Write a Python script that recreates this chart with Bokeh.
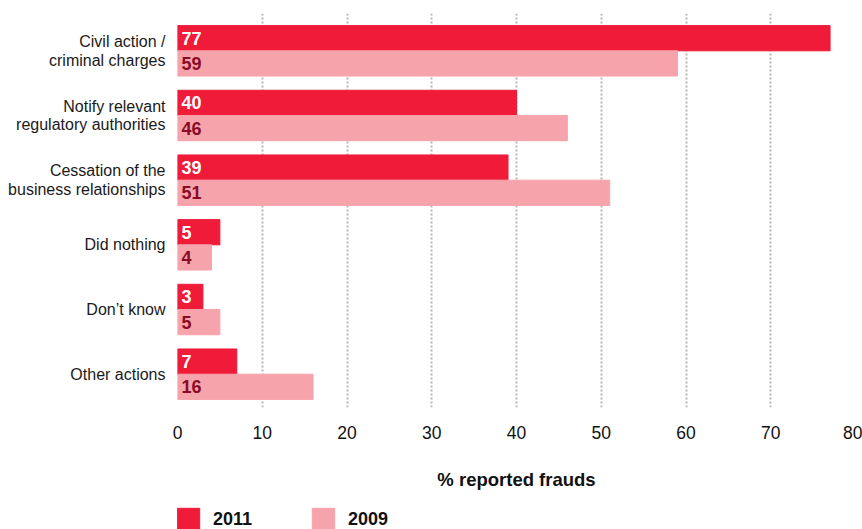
from bokeh.plotting import figure
from bokeh.layouts import column
from bokeh.models import Range1d, FixedTicker, Legend, LegendItem, ColumnDataSource
from bokeh.core.properties import value
from bokeh.embed import file_html
from bokeh.resources import INLINE

categories = ["Civil action /\ncriminal charges",
              "Notify relevant\nregulatory authorities",
              "Cessation of the\nbusiness relationships",
              "Did nothing",
              "Don\u2019t know",
              "Other actions"]
values_2011 = [77, 40, 39, 5, 3, 7]
values_2009 = [59, 46, 51, 4, 5, 16]
series_labels = ["2011", "2009"]
x_ticks = [0, 10, 20, 30, 40, 50, 60, 70, 80]

RED = "#EF1B39"
PINK = "#F6A3AC"
DARK = "#8A0B26"
FONT = "Liberation Sans"

idx = list(range(len(categories)))
BH = 0.39
src11 = ColumnDataSource(dict(y=[i - BH / 2 for i in idx], v=values_2011,
                              t=[str(v) for v in values_2011], z=[0] * len(idx)))
src09 = ColumnDataSource(dict(y=[i + BH / 2 for i in idx], v=values_2009,
                              t=[str(v) for v in values_2009], z=[0] * len(idx)))

p = figure(width=862, height=505, output_backend="svg", toolbar_location=None,
           x_range=Range1d(0, 80), y_range=Range1d(5.515, -0.577),
           min_border_left=177, min_border_right=7, min_border_top=13,
           min_border_bottom=98)
p.outline_line_color = None
p.border_fill_color = "white"

p.hbar(y="y", right="v", left=0, height=BH, color=RED, source=src11)
p.hbar(y="y", right="v", left=0, height=BH, color=PINK, source=src09)

p.text(x="z", y="y", text="t", source=src11, x_offset=4, text_baseline="middle",
       text_color="white", text_font=value(FONT), text_font_style="bold",
       text_font_size="18px")
p.text(x="z", y="y", text="t", source=src09, x_offset=4, text_baseline="middle",
       text_color=DARK, text_font=value(FONT), text_font_style="bold",
       text_font_size="18px")

# x axis
xa = p.xaxis[0]
xa.ticker = FixedTicker(ticks=x_ticks)
xa.axis_line_color = None
xa.major_tick_line_color = None
xa.minor_tick_line_color = None
xa.major_label_standoff = 12
xa.major_label_text_font = FONT
xa.major_label_text_font_size = "17.5px"
xa.major_label_text_color = "#111111"
xa.axis_label = "% reported frauds"
xa.axis_label_text_font = FONT
xa.axis_label_text_font_style = "bold"
xa.axis_label_text_font_size = "18.5px"
xa.axis_label_text_color = "#111111"
xa.axis_label_standoff = 27

# y axis
ya = p.yaxis[0]
ya.ticker = FixedTicker(ticks=idx)
ya.major_label_overrides = {i: c for i, c in enumerate(categories)}
ya.axis_line_color = None
ya.major_tick_line_color = None
ya.minor_tick_line_color = None
ya.major_label_standoff = 6
ya.major_label_text_font = FONT
ya.major_label_text_font_size = "16px"
ya.major_label_text_line_height = 1.1
ya.major_label_text_color = "#1a1a1a"

p.ygrid.grid_line_color = None
p.xgrid.ticker = FixedTicker(ticks=x_ticks[1:])
p.xgrid.grid_line_color = "#BDB5B1"
p.xgrid.grid_line_width = 2
p.xgrid.grid_line_dash = "2 2"

# legend strip below the chart (proxy renderers hidden, legend swatches only)
lg = figure(width=862, height=24, output_backend="svg", toolbar_location=None,
            x_range=Range1d(0, 80), y_range=Range1d(5.515, -0.577),
            min_border_left=177, min_border_right=7, min_border_top=0,
            min_border_bottom=0)
lg.axis.visible = False
lg.grid.visible = False
lg.outline_line_color = None
l11 = lg.hbar(y="y", right="v", left=0, height=BH, color=RED, source=src11, visible=False)
l09 = lg.hbar(y="y", right="v", left=0, height=BH, color=PINK, source=src09, visible=False)
legend = Legend(items=[LegendItem(label=series_labels[0], renderers=[l11]),
                       LegendItem(label=series_labels[1], renderers=[l09])],
                orientation="horizontal", location=(-3, -4),
                glyph_width=28, glyph_height=28, label_standoff=11,
                spacing=57, padding=0, margin=0, label_height=22,
                label_text_font=FONT, label_text_font_style="bold",
                label_text_font_size="18px", label_text_color="#111111",
                border_line_color=None, background_fill_alpha=0)
lg.add_layout(legend, "center")

open("out.html", "w").write(file_html(column(p, lg, spacing=0), INLINE))
